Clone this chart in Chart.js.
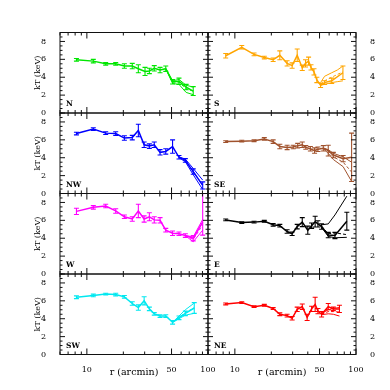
<!DOCTYPE html>
<html>
<head>
<meta charset="utf-8">
<script src="https://cdn.jsdelivr.net/npm/chart.js@4/dist/chart.umd.min.js"></script>
<style>
html, body { margin: 0; padding: 0; background: #fff; }
#wrap { position: relative; width: 390px; height: 390px; }
#wrap canvas { position: absolute; left: 0; top: 0; }
</style>
</head>
<body>
<div id="wrap">
	<canvas id="pN" width="390" height="390"></canvas>
	<canvas id="pS" width="390" height="390"></canvas>
	<canvas id="pNW" width="390" height="390"></canvas>
	<canvas id="pSE" width="390" height="390"></canvas>
	<canvas id="pW" width="390" height="390"></canvas>
	<canvas id="pE" width="390" height="390"></canvas>
	<canvas id="pSW" width="390" height="390"></canvas>
	<canvas id="pNE" width="390" height="390"></canvas>
</div>
<script>
// tick values
var xMajor = [10, 50, 100];
var xMinor = [6, 7, 8, 9, 20, 30, 40, 60, 70, 80, 90];
var yMajor = [0, 2, 4, 6, 8];

// N
var rN = [8.2, 11.3, 14.3, 17.3, 20.4, 23.7, 26.6, 30.2, 32.8, 36.0, 40.2, 44.8, 51, 57.6, 66, 75.5];
var kTN = [5.95, 5.8, 5.5, 5.5, 5.25, 5.25, 4.95, 4.65, 4.7, 5.0, 4.8, 4.95, 3.5, 3.55, 2.9, 2.45];
var errN = [0.15, 0.2, 0.15, 0.15, 0.25, 0.3, 0.45, 0.45, 0.3, 0.3, 0.3, 0.3, 0.25, 0.35, 0.3, 0.5];
var mrN = [44.8, 51, 57.6, 66, 75.5];
var mHiN = [4.95, 3.6, 3.75, 3.1, 2.9];
var mLoN = [4.95, 3.3, 3.2, 2.3, 2.05];
var mMidN = [4.95, 3.45, 3.45, 2.7, 2.45];

// S
var rS = [8.4, 11.4, 14.4, 17.5, 20.7, 23.5, 27, 29.7, 32.7, 36, 38.3, 40.6, 42.5, 45, 47.5, 51, 55, 63, 78];
var kTS = [6.4, 7.35, 6.55, 6.2, 5.95, 6.45, 5.55, 5.3, 6.45, 5.05, 5.55, 5.8, 5.1, 4.6, 3.7, 3.1, 3.4, 3.6, 4.5];
var errS = [0.25, 0.2, 0.15, 0.15, 0.2, 0.5, 0.3, 0.3, 0.7, 0.3, 0.4, 0.45, 0.3, 0.35, 0.3, 0.25, 0.2, 0.3, 0.75];
var mrS = [51, 55, 63, 70, 78];
var mHiS = [3.4, 4.1, 4.5, 4.8, 5.25];
var mLoS = [3.1, 3.2, 3.4, 3.5, 3.6];
var mMidS = [3.2, 3.6, 4.0, 4.3, 4.6];

// NW
var rNW = [8.2, 11.3, 14.3, 17.3, 20.4, 23.7, 26.6, 29.7, 32.8, 36, 40.2, 44.8, 51, 57.6, 65, 75.5, 90.4];
var kTNW = [6.7, 7.2, 6.75, 6.7, 6.2, 6.25, 7.05, 5.45, 5.3, 5.45, 4.6, 4.7, 5.25, 4.05, 3.7, 2.45, 0.9];
var errNW = [0.15, 0.15, 0.15, 0.2, 0.25, 0.25, 0.7, 0.3, 0.25, 0.3, 0.3, 0.3, 0.75, 0.2, 0.2, 0.3, 0.4];
var mrNW = [57.6, 65, 75.5, 90.4];
var mHiNW = [4.1, 3.85, 2.8, 1.5];
var mLoNW = [4.0, 3.55, 2.1, 0.45];
var mMidNW = [4.05, 3.7, 2.45, 0.95];

// SE
var rSE = [8.4, 11.4, 14.4, 17.5, 20.7, 23.5, 27, 30.3, 33, 36, 38.5, 42, 45.5, 48.5, 53.7, 59, 65, 78.3, 92];
var kTSE = [5.8, 5.85, 5.9, 6.1, 5.8, 5.25, 5.15, 5.2, 5.35, 5.45, 5.15, 5.0, 4.8, 4.95, 5.05, 4.8, 4.3, 3.9, 4.05];
var errSE = [0.1, 0.1, 0.1, 0.15, 0.2, 0.25, 0.25, 0.2, 0.25, 0.3, 0.2, 0.25, 0.3, 0.25, 0.3, 0.6, 0.3, 0.35, 2.7];
var mrSE = [53.7, 59, 65, 78.3, 92];
var mHiSE = [5.1, 4.9, 4.5, 4.1, 3.5];
var mLoSE = [5.0, 4.5, 3.8, 3.0, 1.35];
var mMidSE = [5.05, 4.7, 4.1, 3.5, 2.4];

// W
var rW = [8.2, 11.3, 14.3, 17.3, 20.4, 23.7, 26.6, 29.7, 32.8, 36, 40.2, 44.8, 51, 57.6, 65, 75.5, 90.4];
var kTW = [7.0, 7.45, 7.6, 7.05, 6.4, 6.15, 7.05, 6.15, 6.4, 6.05, 6.0, 4.9, 4.55, 4.5, 4.3, 4.0, 5.8];
var errW = [0.35, 0.2, 0.2, 0.25, 0.2, 0.25, 0.75, 0.35, 0.45, 0.35, 0.3, 0.2, 0.25, 0.2, 0.2, 0.3, 1.45];
var errHiW = [0.35, 0.2, 0.2, 0.25, 0.2, 0.25, 0.75, 0.35, 0.45, 0.35, 0.3, 0.2, 0.25, 0.2, 0.2, 0.3, 4.0];
var mrW = [65, 75.5, 90.4];
var mHiW = [4.3, 4.15, 6.1];
var mLoW = [4.3, 3.6, 4.9];
var mMidW = [4.3, 3.85, 5.5];

// E
var rE = [8.4, 11.4, 14.4, 17.5, 20.7, 23.5, 27, 29.7, 32.7, 36, 40, 43, 46, 48.5, 52, 59, 67, 84];
var kTE = [6.05, 5.75, 5.8, 5.9, 5.5, 5.4, 4.75, 4.5, 5.3, 5.8, 4.9, 5.4, 5.85, 5.6, 5.3, 4.35, 4.3, 5.9];
var errE = [0.1, 0.1, 0.1, 0.1, 0.15, 0.15, 0.2, 0.2, 0.25, 0.5, 0.45, 0.3, 0.6, 0.35, 0.3, 0.3, 0.35, 1.0];
var mrE = [52, 59, 67, 84];
var mHiE = [5.5, 5.6, 6.6, 8.7];
var mLoE = [5.2, 4.2, 4.05, 4.1];
var mMidE = [5.35, 4.5, 4.6, 4.4];

// SW
var rSW = [8.2, 11.3, 14.3, 17.3, 20.4, 23.7, 26.6, 29.7, 32.8, 36, 40.2, 44.8, 51, 57.6, 65, 77];
var kTSW = [6.4, 6.6, 6.75, 6.7, 6.45, 5.7, 5.25, 6.0, 5.1, 4.55, 4.3, 4.3, 3.6, 4.1, 4.6, 5.2];
var errSW = [0.15, 0.15, 0.1, 0.15, 0.15, 0.2, 0.3, 0.45, 0.2, 0.15, 0.15, 0.15, 0.2, 0.2, 0.25, 0.6];
var mrSW = [51, 57.6, 65, 77];
var mHiSW = [3.6, 4.3, 5.0, 5.75];
var mLoSW = [3.6, 4.0, 4.4, 4.6];
var mMidSW = [3.6, 4.15, 4.7, 5.2];

// NE
var rNE = [8.4, 11.4, 14.4, 17.5, 20.7, 23.5, 27, 29.7, 32.7, 36, 39.5, 43, 46, 48.5, 52, 59, 65, 73];
var kTNE = [5.65, 5.8, 5.35, 5.5, 5.15, 4.5, 4.35, 4.05, 5.05, 5.35, 4.15, 5.1, 5.6, 4.85, 4.5, 5.35, 5.1, 5.1];
var errNE = [0.1, 0.1, 0.1, 0.1, 0.1, 0.15, 0.15, 0.2, 0.25, 0.3, 0.35, 0.3, 0.8, 0.3, 0.3, 0.35, 0.2, 0.4];
var mrNE = [52, 59, 65, 73];
var mHiNE = [4.6, 5.0, 5.15, 5.25];
var mLoNE = [4.45, 4.55, 4.5, 4.3];
var mMidNE = [4.5, 4.8, 4.8, 4.75];

var FONT = "'DejaVu Serif', serif";

function pts(xs, ys) {
	return xs.map(function (v, i) { return { x: v, y: ys[i] }; });
}

function panel(id, label, col, row, color, r, kT, errLo, errHi, mr, mHi, mLo, mMid) {
	var left = col === 0;
	var bottom = row === 3;
	var top = 32.5 + row * 80.5;
	var pad = {
		top: top,
		bottom: bottom ? 390 - (top + 80.5) - 24 : 390 - (top + 80.5),
		left: left ? 33 : 208,
		right: left ? 182 : 4
	};

	var decor = {
		id: 'decor',
		afterDatasetsDraw: function (chart) {
			var ctx = chart.ctx, a = chart.chartArea;
			var xs = chart.scales.x, ys = chart.scales.y;
			var i, p;
			// error bars
			ctx.save();
			ctx.beginPath();
			ctx.rect(a.left, a.top, a.right - a.left, a.bottom - a.top);
			ctx.clip();
			ctx.strokeStyle = color;
			ctx.lineWidth = 1.1;
			ctx.beginPath();
			for (i = 0; i < r.length; i++) {
				var px = xs.getPixelForValue(r[i]);
				var y1 = ys.getPixelForValue(kT[i] - errLo[i]);
				var y2 = ys.getPixelForValue(kT[i] + errHi[i]);
				ctx.moveTo(px, y1); ctx.lineTo(px, y2);
				ctx.moveTo(px - 2.5, y1); ctx.lineTo(px + 2.5, y1);
				ctx.moveTo(px - 2.5, y2); ctx.lineTo(px + 2.5, y2);
			}
			ctx.stroke();
			ctx.restore();

			// frame and inward ticks
			ctx.save();
			ctx.strokeStyle = '#111';
			ctx.lineWidth = 1;
			ctx.strokeRect(a.left, a.top, a.right - a.left, a.bottom - a.top);
			ctx.beginPath();
			xMinor.concat(xMajor).forEach(function (v) {
				var len = xMajor.indexOf(v) >= 0 ? 6 : 3;
				p = xs.getPixelForValue(v);
				ctx.moveTo(p, a.bottom); ctx.lineTo(p, a.bottom - len);
				ctx.moveTo(p, a.top); ctx.lineTo(p, a.top + len);
			});
			for (var y = 0; y <= 9; y += 0.5) {
				var len = yMajor.indexOf(y) >= 0 ? 5 : 2.5;
				p = ys.getPixelForValue(y);
				ctx.moveTo(a.left, p); ctx.lineTo(a.left + len, p);
				ctx.moveTo(a.right, p); ctx.lineTo(a.right - len, p);
			}
			ctx.stroke();

			// panel label
			ctx.fillStyle = '#000';
			ctx.font = 'bold 7.5px ' + FONT;
			ctx.textBaseline = 'alphabetic';
			ctx.fillText(label, a.left + 6, a.bottom - 7);
			ctx.restore();
		}
	};

	return new Chart(document.getElementById(id), {
		type: 'line',
		data: {
			datasets: [{
				data: pts(r, kT),
				borderColor: color,
				borderWidth: 1.5,
				pointRadius: 0,
				tension: 0
			}, {
				data: pts(mr, mHi),
				borderColor: color,
				borderWidth: 1,
				pointRadius: 0
			}, {
				data: pts(mr, mLo),
				borderColor: color,
				borderWidth: 1,
				pointRadius: 0
			}, {
				data: pts(mr, mMid),
				borderColor: color,
				borderWidth: 1,
				borderDash: [3, 2],
				pointRadius: 0
			}]
		},
		options: {
			responsive: false,
			devicePixelRatio: 1,
			animation: false,
			layout: { padding: pad },
			plugins: { legend: { display: false }, tooltip: { enabled: false } },
			scales: {
				x: {
					type: 'logarithmic',
					min: 6,
					max: 100,
					display: bottom,
					afterBuildTicks: function (s) { s.ticks = xMajor.map(function (v) { return { value: v }; }); },
					afterFit: function (s) { s.height = bottom ? 24 : 0; },
					grid: { display: false },
					border: { display: false },
					ticks: {
						padding: 3,
						color: '#000',
						maxRotation: 0,
						autoSkip: false,
						font: { family: FONT, size: 8 },
						callback: function (v) { return String(v); }
					},
					title: { display: true, text: 'r (arcmin)', color: '#000', padding: 0, font: { family: FONT, size: 9.5 } }
				},
				y: {
					type: 'linear',
					min: 0,
					max: 9,
					position: left ? 'left' : 'right',
					afterBuildTicks: function (s) { s.ticks = yMajor.map(function (v) { return { value: v }; }); },
					afterFit: function (s) { s.width = left ? 27 : 30; },
					grid: { display: false },
					border: { display: false },
					ticks: { padding: 6, color: '#000', font: { family: FONT, size: 8 } },
					title: { display: left, text: 'kT (keV)', color: '#000', padding: 0, font: { family: FONT, size: 8 } }
				}
			}
		},
		plugins: [decor]
	});
}

panel('pN', 'N', 0, 0, '#00e600', rN, kTN, errN, errN, mrN, mHiN, mLoN, mMidN);
panel('pS', 'S', 1, 0, '#ffa500', rS, kTS, errS, errS, mrS, mHiS, mLoS, mMidS);
panel('pNW', 'NW', 0, 1, '#0000ff', rNW, kTNW, errNW, errNW, mrNW, mHiNW, mLoNW, mMidNW);
panel('pSE', 'SE', 1, 1, '#a0522d', rSE, kTSE, errSE, errSE, mrSE, mHiSE, mLoSE, mMidSE);
panel('pW', 'W', 0, 2, '#ff00ff', rW, kTW, errW, errHiW, mrW, mHiW, mLoW, mMidW);
panel('pE', 'E', 1, 2, '#000000', rE, kTE, errE, errE, mrE, mHiE, mLoE, mMidE);
panel('pSW', 'SW', 0, 3, '#00e8f0', rSW, kTSW, errSW, errSW, mrSW, mHiSW, mLoSW, mMidSW);
panel('pNE', 'NE', 1, 3, '#ff0000', rNE, kTNE, errNE, errNE, mrNE, mHiNE, mLoNE, mMidNE);
</script>
</body>
</html>
